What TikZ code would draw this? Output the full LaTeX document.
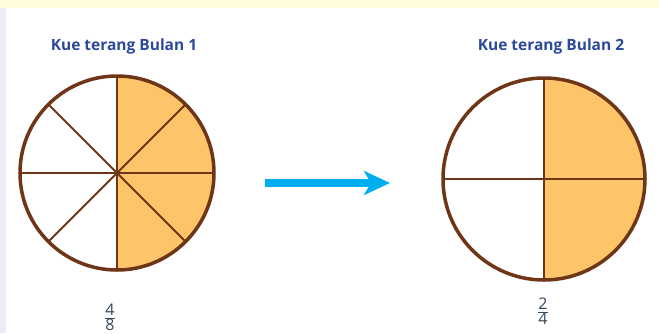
\documentclass[tikz,border=0pt]{standalone}
\usepackage{fontspec}
\setmainfont{Open Sans}
\usetikzlibrary{arrows.meta,calc}
\definecolor{crust}{HTML}{6E3517}
\definecolor{cake}{HTML}{FDC46A}
\definecolor{titleblue}{HTML}{2C4A9A}
\definecolor{arrowblue}{HTML}{00AEEF}
\definecolor{fraccol}{HTML}{34495E}
\definecolor{bgyellow}{HTML}{FFFBDC}
\definecolor{bglav}{HTML}{EEEBF6}
\begin{document}
\begin{tikzpicture}[x=1pt,y=-1pt,
  title/.style={font=\fontsize{15.5}{17}\selectfont\bfseries, text=titleblue, inner sep=0pt},
  frac/.style={font=\fontsize{16}{17}\selectfont, text=fraccol, inner sep=0pt},
  rim/.style={draw=crust, line width=3.5pt},
  cut/.style={draw=crust, line width=1.8pt}]
\useasboundingbox (0,0) rectangle (659,333);
\fill[white] (0,0) rectangle (659,333);
\fill[bgyellow] (0,0) rectangle (659,8);
\fill[bglav] (0,8) rectangle (6,333);
% left cake
\coordinate (c1) at (117,173);
\def\ra{97}
\begin{scope}
  \clip (c1) circle[radius=\ra];
  \fill[cake] (c1) ++(0,-\ra) rectangle ++(\ra,2*\ra);
\end{scope}
\foreach \a in {0,45,90,135}
  \draw[cut] ($(c1)+(\a:\ra)$) -- ($(c1)+(\a+180:\ra)$);
\draw[rim] (c1) circle[radius=\ra];
% right cake
\coordinate (c2) at (544,179);
\def\rb{101}
\begin{scope}
  \clip (c2) circle[radius=\rb];
  \fill[cake] (c2) ++(0,-\rb) rectangle ++(\rb,2*\rb);
\end{scope}
\foreach \a in {0,90}
  \draw[cut] ($(c2)+(\a:\rb)$) -- ($(c2)+(\a+180:\rb)$);
\draw[rim] (c2) circle[radius=\rb];
% titles
\node[title] (t1) at (124,46) {Kue terang Bulan 1};
\node[title] (t2) at (551,46) {Kue terang Bulan 2};
% arrow
\coordinate (a1) at (265,183);
\coordinate (a2) at (390,183);
\draw[arrowblue, line width=8pt, -{Stealth[length=26pt,width=24pt,inset=7pt]}] (a1) -- (a2);
% fractions
\node[frac] (f1) at (110,317) {$\frac{\mbox{4}}{\mbox{8}}$};
\node[frac] (f2) at (543,311) {$\frac{\mbox{2}}{\mbox{4}}$};
\end{tikzpicture}
\end{document}
